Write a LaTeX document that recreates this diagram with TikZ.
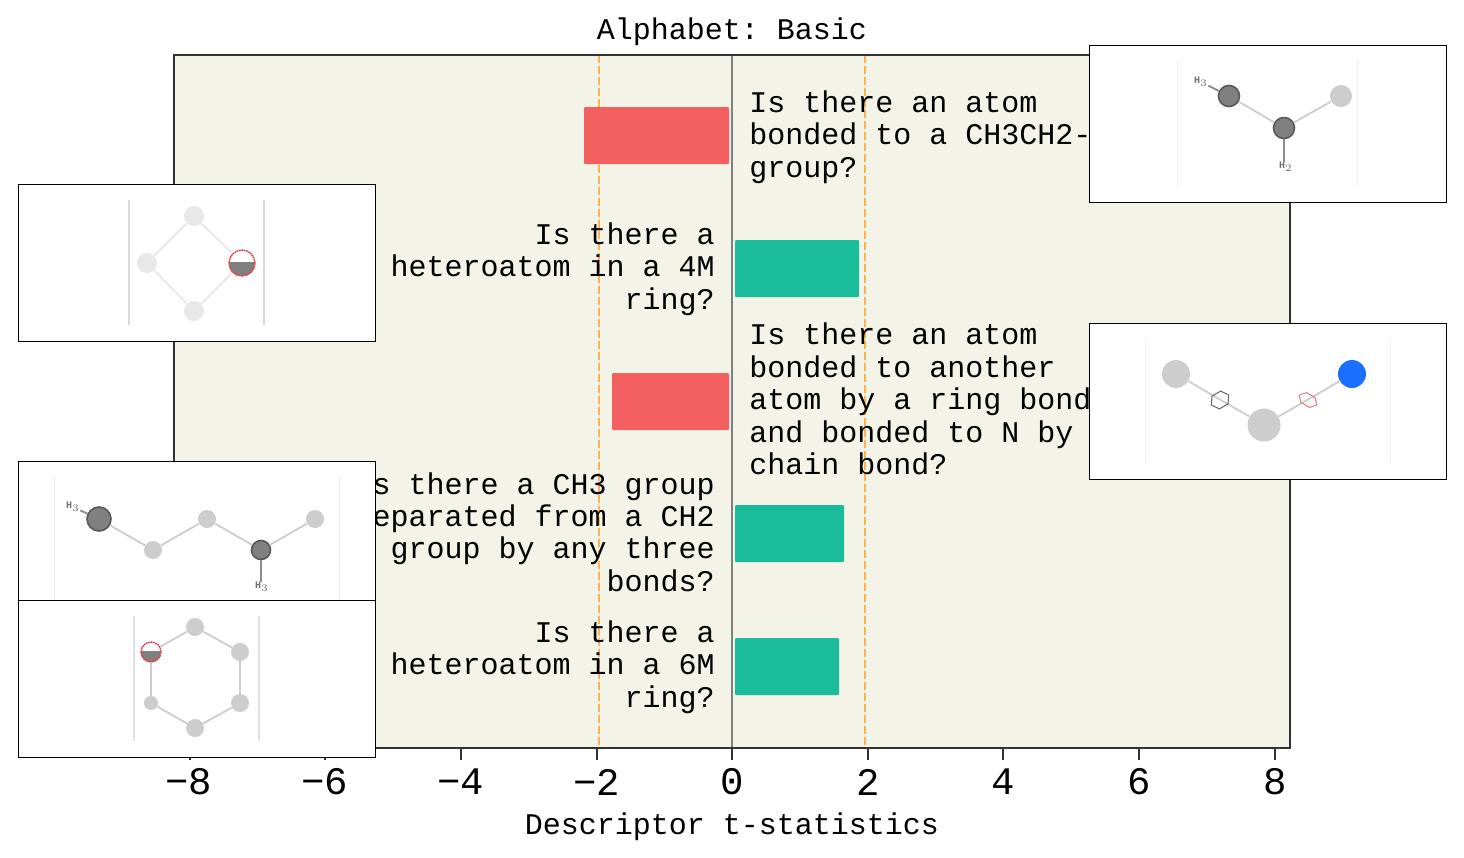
\documentclass[tikz,border=0pt]{standalone}
\usepackage{fontspec}
\setmainfont{Liberation Mono}
\usepackage{tikz}
\usetikzlibrary{shapes.geometric}
\definecolor{plotbg}{HTML}{F3F3E8}
\definecolor{barred}{HTML}{F46060}
\definecolor{barteal}{HTML}{1ABC9C}
\definecolor{sigline}{HTML}{FFB14E}
\definecolor{spine}{HTML}{333333}
\definecolor{atomdark}{HTML}{808080}
\definecolor{atomlight}{HTML}{CDCDCD}
\definecolor{atomfaint}{HTML}{E8E8E8}
\definecolor{atomblue}{HTML}{1A6FFF}
\definecolor{ringred}{HTML}{E0404A}
\tikzset{
	spineline/.style={spine, line width=1pt},
	tickline/.style={spine, line width=1pt},
	sigdash/.style={sigline, line width=0.75pt, dash pattern=on 4pt off 1.5pt},
	bar/.style={rounded corners=0.5pt, draw=none},
	question/.style={inner sep=0pt, font=\fontsize{15}{16.2}\selectfont\frenchspacing, text=black},
	ticklabel/.style={inner sep=0pt, font=\fontsize{19.5}{22}\selectfont, text=black},
	axislabel/.style={inner sep=0pt, font=\fontsize{15}{16}\selectfont\frenchspacing, text=black},
	panel/.style={draw=black, line width=0.5pt, fill=white},
	marginline/.style={line width=0.5pt},
	atom/.style={circle, inner sep=0pt, fill=atomlight},
	darkatom/.style={circle, inner sep=0pt, fill=atomdark, draw=black!65, line width=0.8pt},
	halfatom/.style={circle, inner sep=0pt, fill=white, draw=ringred, line width=0.7pt, dash pattern=on 0.9pt off 0.3pt,
		path picture={\fill[atomdark] ([yshift=0.4pt]path picture bounding box.west) rectangle (path picture bounding box.south east);}},
	bond/.style={atomlight, line width=0.9pt},
	stubbond/.style={black!45, line width=0.9pt},
	hlabel/.style={inner sep=0pt, font=\fontsize{5}{6}\selectfont\bfseries, text=black!55},
	bondmark/.style={regular polygon, regular polygon sides=6, inner sep=0pt, minimum size=10pt, line width=0.5pt},
}
\begin{document}
\begin{tikzpicture}[x=0.5pt,y=-0.5pt]
	\useasboundingbox (0,0) rectangle (1464,858);
	\fill[white] (0,0) rectangle (1464,858);

	% plot area
	\fill[plotbg] (174,55) rectangle (1290,748);
	\draw[sigdash] (599,55) -- (599,748);
	\draw[sigdash] (865,55) -- (865,748);
	\draw[black!50, line width=0.6pt] (732,55) -- (732,748);

	\fill[bar, barred] (584,107) rectangle (729,164);
	\fill[bar, barteal] (735,240) rectangle (859,297);
	\fill[bar, barred] (612,373) rectangle (729,430);
	\fill[bar, barteal] (735,505) rectangle (844,562);
	\fill[bar, barteal] (735,638) rectangle (839,695);

	\draw[spineline] (174,748) -- (174,55) -- (1290,55) -- (1290,748) -- cycle;

	% ticks
	\draw[tickline] (190,748) -- (190,760);
	\draw[tickline] (325,748) -- (325,760);
	\draw[tickline] (461,748) -- (461,760);
	\draw[tickline] (597,748) -- (597,760);
	\draw[tickline] (732,748) -- (732,760);
	\draw[tickline] (868,748) -- (868,760);
	\draw[tickline] (1003,748) -- (1003,760);
	\draw[tickline] (1139,748) -- (1139,760);
	\draw[tickline] (1275,748) -- (1275,760);
	\node[ticklabel] (tm8) at (189,782) {−8};
	\node[ticklabel] (tm6) at (325,782) {−6};
	\node[ticklabel] (tm4) at (461,782) {−4};
	\node[ticklabel] (tm2) at (597,782) {−2};
	\node[ticklabel] (t0) at (732,782) {0};
	\node[ticklabel] (t2) at (868,782) {2};
	\node[ticklabel] (t4) at (1003,782) {4};
	\node[ticklabel] (t6) at (1139,782) {6};
	\node[ticklabel] (t8) at (1275,782) {8};

	\node[axislabel] (title) at (732,32) {Alphabet: Basic};
	\node[axislabel] (xlabel) at (732,827) {Descriptor t-statistics};

	% questions
	\node[question, align=left, anchor=west] (q1) at (749,137) {Is there an atom\\bonded to a CH3CH2-\\group?};
	\node[question, align=right, anchor=east] (q2) at (715,269) {Is there a\\heteroatom in a 4M\\ring?};
	\node[question, align=left, anchor=west] (q3) at (749,399) {Is there an atom\\bonded to another\\atom by a ring bond\\and bonded to N by\\chain bond?};
	\node[question, align=right, anchor=east] (q4) at (715,532) {Is there a CH3 group\\separated from a CH2\\group by any three\\bonds?};
	\node[question, align=right, anchor=east] (q5) at (715,667) {Is there a\\heteroatom in a 6M\\ring?};

	% top right molecule
	\draw[panel] (1089,45) rectangle (1446,202);
	\draw[marginline, black!6] (1177,60) -- (1177,186);
	\draw[marginline, black!6] (1357,60) -- (1357,186);
	\node[darkatom, minimum size=10.5pt] (a1) at (1229,96) {};
	\node[darkatom, minimum size=10.5pt] (a2) at (1284,128) {};
	\node[atom, minimum size=11pt] (a3) at (1341,96) {};
	\node[hlabel] (a1h) at (1201,82) {H$_{3}$};
	\node[hlabel] (a2h) at (1286,167) {H$_{2}$};
	\draw[bond] (a1) -- (a2);
	\draw[bond] (a2) -- (a3);
	\draw[stubbond] (a1) -- (a1h);
	\draw[stubbond] (a2) -- (a2 |- a2h.north);

	% four ring
	\draw[panel] (18,184) rectangle (375,341);
	\draw[marginline, black!15, line width=0.8pt] (129,200) -- (129,325);
	\draw[marginline, black!15, line width=0.8pt] (264,200) -- (264,325);
	\node[atom, fill=atomfaint, minimum size=10pt] (b1) at (194,216) {};
	\node[atom, fill=atomfaint, minimum size=10pt] (b2) at (147,263) {};
	\node[atom, fill=atomfaint, minimum size=10pt] (b3) at (194,311) {};
	\node[halfatom, minimum size=13pt] (b4) at (242,263) {};
	\draw[bond, atomfaint] (b1) -- (b2);
	\draw[bond, atomfaint] (b2) -- (b3);
	\draw[bond, atomfaint] (b3) -- (b4);
	\draw[bond, atomfaint] (b4) -- (b1);

	% ring bond molecule
	\draw[panel] (1089,323) rectangle (1446,479);
	\draw[marginline, black!6] (1145,338) -- (1145,463);
	\draw[marginline, black!6] (1390,338) -- (1390,463);
	\node[atom, minimum size=14pt] (c1) at (1176,374) {};
	\node[atom, minimum size=16.5pt] (c2) at (1264,425) {};
	\node[atom, fill=atomblue, minimum size=14pt] (c3) at (1352,374) {};
	\draw[bond] (c1) -- (c2);
	\draw[bond] (c2) -- (c3);
	\node[bondmark, draw=black!60, rotate=30, yscale=0.85] (m1) at (1220,400) {};
	\node[bondmark, draw=ringred!70!white, rotate=-30, yscale=0.65] (m2) at (1308,400) {};

	% chain molecule
	\draw[panel] (18,461) rectangle (375,600);
	\draw[marginline, black!8] (54,477) -- (54,600);
	\draw[marginline, black!8] (339,477) -- (339,600);
	\node[darkatom, minimum size=12pt] (d1) at (99,519) {};
	\node[atom, minimum size=9pt] (d2) at (153,550) {};
	\node[atom, minimum size=9pt] (d3) at (207,519) {};
	\node[darkatom, minimum size=9.5pt] (d4) at (261,550) {};
	\node[atom, minimum size=9pt] (d5) at (315,519) {};
	\node[hlabel] (d1h) at (73,507) {H$_{3}$};
	\node[hlabel] (d4h) at (262,587) {H$_{3}$};
	\draw[bond] (d1) -- (d2);
	\draw[bond] (d2) -- (d3);
	\draw[bond] (d3) -- (d4);
	\draw[bond] (d4) -- (d5);
	\draw[stubbond] (d1) -- (d1h);
	\draw[stubbond] (d4) -- (d4 |- d4h.north);

	% six ring
	\draw[panel] (18,600) rectangle (375,757);
	\draw[marginline, black!12, line width=0.7pt] (134,616) -- (134,741);
	\draw[marginline, black!12, line width=0.7pt] (259,616) -- (259,741);
	\node[atom, minimum size=9pt] (e1) at (195,627) {};
	\node[atom, minimum size=9pt] (e2) at (240,652) {};
	\node[atom, minimum size=9pt] (e3) at (240,703) {};
	\node[atom, minimum size=9pt] (e4) at (195,728) {};
	\node[atom, minimum size=7pt] (e5) at (151,703) {};
	\node[halfatom, minimum size=10pt] (e6) at (151,652) {};
	\draw[bond] (e1) -- (e2);
	\draw[bond] (e2) -- (e3);
	\draw[bond] (e3) -- (e4);
	\draw[bond] (e4) -- (e5);
	\draw[bond] (e5) -- (e6);
	\draw[bond] (e6) -- (e1);
\end{tikzpicture}
\end{document}
